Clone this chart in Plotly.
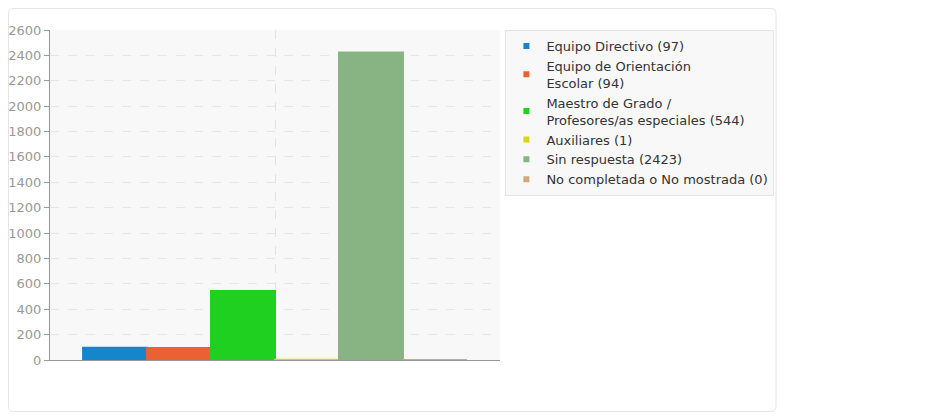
import plotly.graph_objects as go

# Data
categories = [""]
series_names = [
    "Equipo Directivo (97)",
    "Equipo de Orientación<br>Escolar (94)",
    "Maestro de Grado /<br>Profesores/as especiales (544)",
    "Auxiliares (1)",
    "Sin respuesta (2423)",
    "No completada o No mostrada (0)",
]
series_values = [97, 94, 544, 1, 2423, 0]
series_colors = ["#1585cc", "#ea6133", "#20d020", "#d6d614", "#88b383", "#d4a67a"]
y_ticks = list(range(0, 2601, 200))

fig = go.Figure()
for name, val, color in zip(series_names, series_values, series_colors):
    fig.add_trace(go.Bar(
        x=categories, y=[val], name=name, showlegend=False, legendgroup=name,
        marker=dict(color=color, line=dict(color=color, width=2)),
        hoverinfo="y+name",
    ))
    # small square legend symbols
    fig.add_trace(go.Scatter(
        x=[None], y=[None], mode="markers", name=name, legendgroup=name,
        marker=dict(symbol="square", size=6, color=color),
    ))

# outer rounded frame, in figure pixels (figure sits 8px into the page)
r = 5
x0, x1, y0, y1 = 0.5, 768, 0.5, 403.5
px = lambda v: (v - 42) / 450
py = lambda v: (352 - v) / 330
border = (
    f"M {px(x0 + r)},{py(y0)} L {px(x1 - r)},{py(y0)} Q {px(x1)},{py(y0)} {px(x1)},{py(y0 + r)} "
    f"L {px(x1)},{py(y1 - r)} Q {px(x1)},{py(y1)} {px(x1 - r)},{py(y1)} "
    f"L {px(x0 + r)},{py(y1)} Q {px(x0)},{py(y1)} {px(x0)},{py(y1 - r)} "
    f"L {px(x0)},{py(y0 + r)} Q {px(x0)},{py(y0)} {px(x0 + r)},{py(y0)} Z"
)

fig.update_layout(
    width=925, height=404,
    margin=dict(l=42, r=433, t=22, b=52),
    paper_bgcolor="white",
    plot_bgcolor="#f8f8f8",
    barmode="group",
    bargap=0.147,
    bargroupgap=0,
    font=dict(family="DejaVu Sans", size=13, color="#333"),
    legend=dict(
        x=1.012, y=1.0, xanchor="left", yanchor="top",
        bgcolor="#f8f8f8", bordercolor="#e4e4e4", borderwidth=1,
        font=dict(size=13, color="#333"),
        itemwidth=30, tracegroupgap=0,
    ),
    xaxis=dict(
        showticklabels=False, showgrid=True, gridcolor="#e2e2e2", griddash="dash",
        showline=True, linecolor="#999", linewidth=1, ticks="", zeroline=False,
    ),
    yaxis=dict(
        range=[0, 2600], tickvals=y_ticks, showgrid=True, gridcolor="#e6e6e6", griddash="dash",
        showline=True, linecolor="#999", linewidth=1, ticks="outside", ticklen=5, tickcolor="#999",
        tickfont=dict(size=13, color="#999"), zeroline=False, automargin=False,
    ),
    shapes=[dict(
        type="path", xref="paper", yref="paper", path=border,
        line=dict(color="#e4e4e4", width=1), fillcolor="rgba(0,0,0,0)", layer="below",
    )],
)

fig.write_html("out.html")
